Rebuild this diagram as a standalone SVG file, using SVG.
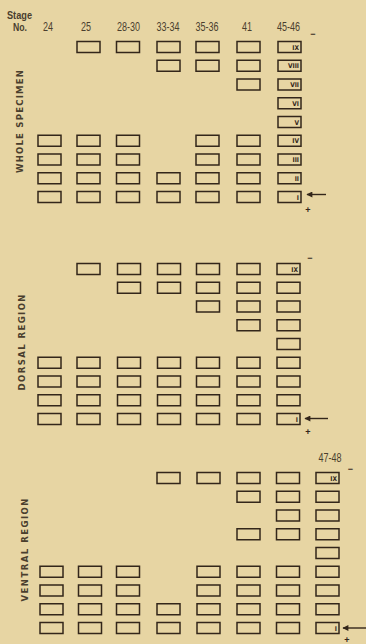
<svg xmlns="http://www.w3.org/2000/svg" width="366" height="644" viewBox="0 0 366 644">
<style>
.bg{fill:#e7d5a3}
.b{fill:none;stroke:#33261a;stroke-width:1.5}
.h{font-family:"Liberation Sans",Arial,sans-serif;font-size:13px;fill:#4a3e2e;text-anchor:middle}
.s{font-family:"Liberation Sans",Arial,sans-serif;font-size:11px;fill:#4a3e2e;font-weight:bold}
.r{font-family:"Liberation Sans Narrow","DejaVu Sans Condensed","Liberation Sans",sans-serif;font-size:6.5px;fill:#33261a;text-anchor:end;font-weight:bold}
.v{font-family:"DejaVu Sans Condensed","Liberation Sans",sans-serif;font-size:9.5px;fill:#4a3e2e;font-weight:bold;text-anchor:middle}
.m{font-family:"Liberation Sans",sans-serif;font-size:9px;fill:#33261a;font-weight:bold;text-anchor:middle}
.ar{stroke:#33261a;stroke-width:1.4;fill:none}
</style>
<defs>
<marker id="ah" viewBox="0 0 10 10" refX="9" refY="5" markerWidth="7" markerHeight="6" orient="auto" markerUnits="userSpaceOnUse">
<path d="M10,5 L0,0 L0,10 Z" fill="#33261a"/>
</marker>
<rect id="bx" width="23" height="11" class="b"/>
</defs>
<rect class="bg" x="0" y="0" width="366" height="644"/>
<g id="header">
<text class="s" x="7" y="19" textLength="25" lengthAdjust="spacingAndGlyphs">Stage</text>
<text class="s" x="13" y="31" textLength="14" lengthAdjust="spacingAndGlyphs">No.</text>
<text class="h" x="48" y="31" textLength="10" lengthAdjust="spacingAndGlyphs">24</text>
<text class="h" x="86" y="31" textLength="10" lengthAdjust="spacingAndGlyphs">25</text>
<text class="h" x="128.5" y="31" textLength="23" lengthAdjust="spacingAndGlyphs">28-30</text>
<text class="h" x="168" y="31" textLength="23" lengthAdjust="spacingAndGlyphs">33-34</text>
<text class="h" x="207" y="31" textLength="23" lengthAdjust="spacingAndGlyphs">35-36</text>
<text class="h" x="247" y="31" textLength="10" lengthAdjust="spacingAndGlyphs">41</text>
<text class="h" x="288.5" y="31" textLength="23" lengthAdjust="spacingAndGlyphs">45-46</text>
</g>
<g id="whole-specimen">
<text class="v" transform="translate(23,121.5) rotate(-90)" textLength="103" lengthAdjust="spacing">WHOLE SPECIMEN</text>
<g id="ws-24"><use href="#bx" x="38" y="135.25"/><use href="#bx" x="38" y="154"/><use href="#bx" x="38" y="172.75"/><use href="#bx" x="38" y="191.5"/></g>
<g id="ws-25"><use href="#bx" x="77" y="41.5"/><use href="#bx" x="77" y="135.25"/><use href="#bx" x="77" y="154"/><use href="#bx" x="77" y="172.75"/><use href="#bx" x="77" y="191.5"/></g>
<g id="ws-28-30"><use href="#bx" x="116.5" y="41.5"/><use href="#bx" x="116.5" y="135.25"/><use href="#bx" x="116.5" y="154"/><use href="#bx" x="116.5" y="172.75"/><use href="#bx" x="116.5" y="191.5"/></g>
<g id="ws-33-34"><use href="#bx" x="157" y="41.5"/><use href="#bx" x="157" y="60.25"/><use href="#bx" x="157" y="172.75"/><use href="#bx" x="157" y="191.5"/></g>
<g id="ws-35-36"><use href="#bx" x="196" y="41.5"/><use href="#bx" x="196" y="60.25"/><use href="#bx" x="196" y="135.25"/><use href="#bx" x="196" y="154"/><use href="#bx" x="196" y="172.75"/><use href="#bx" x="196" y="191.5"/></g>
<g id="ws-41"><use href="#bx" x="237" y="41.5"/><use href="#bx" x="237" y="60.25"/><use href="#bx" x="237" y="79"/><use href="#bx" x="237" y="135.25"/><use href="#bx" x="237" y="154"/><use href="#bx" x="237" y="172.75"/><use href="#bx" x="237" y="191.5"/></g>
<g id="ws-45-46">
<use href="#bx" x="278" y="41.5"/><use href="#bx" x="278" y="60.25"/><use href="#bx" x="278" y="79"/><use href="#bx" x="278" y="97.75"/><use href="#bx" x="278" y="116.5"/><use href="#bx" x="278" y="135.25"/><use href="#bx" x="278" y="154"/><use href="#bx" x="278" y="172.75"/><use href="#bx" x="278" y="191.5"/>
<text class="r" x="299" y="49.5">IX</text><text class="r" x="299" y="68.25">VIII</text><text class="r" x="299" y="87">VII</text><text class="r" x="299" y="105.75">VI</text><text class="r" x="299" y="124.5">V</text><text class="r" x="299" y="143.25">IV</text><text class="r" x="299" y="162">III</text><text class="r" x="299" y="180.75">II</text><text class="r" x="299" y="199.5">I</text>
</g>
<text class="m" x="313" y="37">−</text>
<text class="m" x="308" y="213">+</text>
</g>
<g id="dorsal-region">
<text class="v" transform="translate(25,342.5) rotate(-90)" textLength="96" lengthAdjust="spacing">DORSAL REGION</text>
<g id="dr-24"><use href="#bx" x="38" y="357.25"/><use href="#bx" x="38" y="376"/><use href="#bx" x="38" y="394.75"/><use href="#bx" x="38" y="413.5"/></g>
<g id="dr-25"><use href="#bx" x="77" y="263.5"/><use href="#bx" x="77" y="357.25"/><use href="#bx" x="77" y="376"/><use href="#bx" x="77" y="394.75"/><use href="#bx" x="77" y="413.5"/></g>
<g id="dr-28-30"><use href="#bx" x="117.5" y="263.5"/><use href="#bx" x="117.5" y="282.25"/><use href="#bx" x="117.5" y="357.25"/><use href="#bx" x="117.5" y="376"/><use href="#bx" x="117.5" y="394.75"/><use href="#bx" x="117.5" y="413.5"/></g>
<g id="dr-33-34"><use href="#bx" x="157.5" y="263.5"/><use href="#bx" x="157.5" y="282.25"/><use href="#bx" x="157.5" y="357.25"/><use href="#bx" x="157.5" y="376"/><use href="#bx" x="157.5" y="394.75"/><use href="#bx" x="157.5" y="413.5"/></g>
<g id="dr-35-36"><use href="#bx" x="196.5" y="263.5"/><use href="#bx" x="196.5" y="282.25"/><use href="#bx" x="196.5" y="301"/><use href="#bx" x="196.5" y="357.25"/><use href="#bx" x="196.5" y="376"/><use href="#bx" x="196.5" y="394.75"/><use href="#bx" x="196.5" y="413.5"/></g>
<g id="dr-41"><use href="#bx" x="237" y="263.5"/><use href="#bx" x="237" y="282.25"/><use href="#bx" x="237" y="301"/><use href="#bx" x="237" y="319.75"/><use href="#bx" x="237" y="357.25"/><use href="#bx" x="237" y="376"/><use href="#bx" x="237" y="394.75"/><use href="#bx" x="237" y="413.5"/></g>
<g id="dr-45-46">
<use href="#bx" x="277" y="263.5"/><use href="#bx" x="277" y="282.25"/><use href="#bx" x="277" y="301"/><use href="#bx" x="277" y="319.75"/><use href="#bx" x="277" y="338.5"/><use href="#bx" x="277" y="357.25"/><use href="#bx" x="277" y="376"/><use href="#bx" x="277" y="394.75"/><use href="#bx" x="277" y="413.5"/>
<text class="r" x="298" y="271.5">IX</text><text class="r" x="298" y="421.5">I</text>
</g>
<text class="m" x="310" y="261">−</text>
<text class="m" x="308" y="435">+</text>
</g>
<g id="ventral-region">
<text class="h" x="330" y="462" textLength="23" lengthAdjust="spacingAndGlyphs">47-48</text>
<text class="v" transform="translate(28,550) rotate(-90)" textLength="103" lengthAdjust="spacing">VENTRAL REGION</text>
<g id="vr-24"><use href="#bx" x="40" y="566.25"/><use href="#bx" x="40" y="585"/><use href="#bx" x="40" y="603.75"/><use href="#bx" x="40" y="622.5"/></g>
<g id="vr-25"><use href="#bx" x="78.5" y="566.25"/><use href="#bx" x="78.5" y="585"/><use href="#bx" x="78.5" y="603.75"/><use href="#bx" x="78.5" y="622.5"/></g>
<g id="vr-28-30"><use href="#bx" x="116.5" y="566.25"/><use href="#bx" x="116.5" y="585"/><use href="#bx" x="116.5" y="603.75"/><use href="#bx" x="116.5" y="622.5"/></g>
<g id="vr-33-34"><use href="#bx" x="157" y="472.5"/><use href="#bx" x="157" y="603.75"/><use href="#bx" x="157" y="622.5"/></g>
<g id="vr-35-36"><use href="#bx" x="197" y="472.5"/><use href="#bx" x="197" y="566.25"/><use href="#bx" x="197" y="585"/><use href="#bx" x="197" y="603.75"/><use href="#bx" x="197" y="622.5"/></g>
<g id="vr-41"><use href="#bx" x="237" y="472.5"/><use href="#bx" x="237" y="491.25"/><use href="#bx" x="237" y="528.75"/><use href="#bx" x="237" y="566.25"/><use href="#bx" x="237" y="585"/><use href="#bx" x="237" y="603.75"/><use href="#bx" x="237" y="622.5"/></g>
<g id="vr-45-46"><use href="#bx" x="276.5" y="472.5"/><use href="#bx" x="276.5" y="491.25"/><use href="#bx" x="276.5" y="510"/><use href="#bx" x="276.5" y="528.75"/><use href="#bx" x="276.5" y="566.25"/><use href="#bx" x="276.5" y="585"/><use href="#bx" x="276.5" y="603.75"/><use href="#bx" x="276.5" y="622.5"/></g>
<g id="vr-47-48">
<use href="#bx" x="316" y="472.5"/><use href="#bx" x="316" y="491.25"/><use href="#bx" x="316" y="510"/><use href="#bx" x="316" y="528.75"/><use href="#bx" x="316" y="547.5"/><use href="#bx" x="316" y="566.25"/><use href="#bx" x="316" y="585"/><use href="#bx" x="316" y="603.75"/><use href="#bx" x="316" y="622.5"/>
<text class="r" x="337" y="480.5">IX</text><text class="r" x="337" y="630.5">I</text>
</g>
<text class="m" x="350.5" y="471.5">−</text>
<text class="m" x="347" y="643">+</text>
</g>
<g id="connectors">
<line class="ar" x1="326" y1="194.5" x2="307" y2="194.5" marker-end="url(#ah)"/>
<line class="ar" x1="328" y1="418.5" x2="305" y2="418.5" marker-end="url(#ah)"/>
<line class="ar" x1="366" y1="628" x2="343" y2="628" marker-end="url(#ah)"/>
</g>
</svg>
